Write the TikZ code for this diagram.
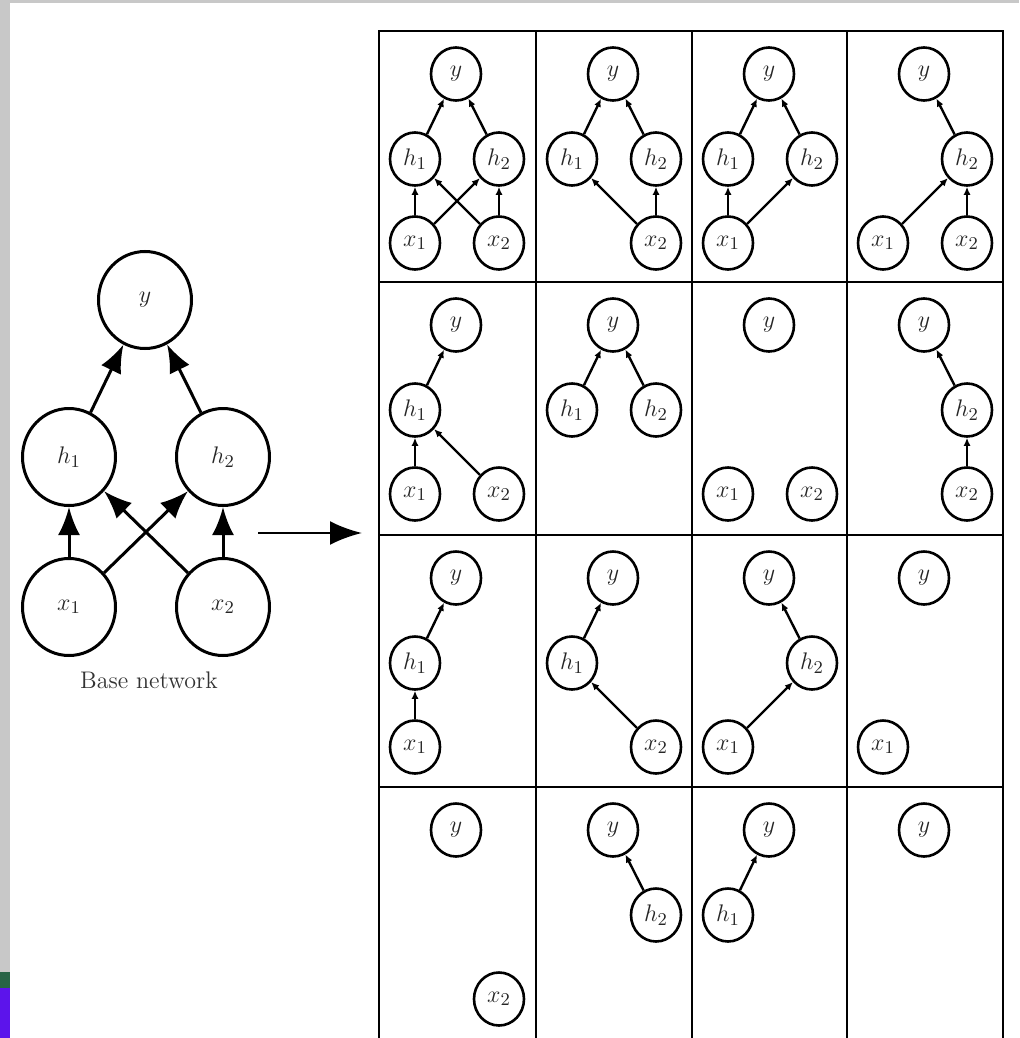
\documentclass[tikz,border=0pt]{standalone}
\usetikzlibrary{arrows.meta,shapes.geometric}
\definecolor{stripgray}{RGB}{200,200,200}
\definecolor{bandgreen}{RGB}{40,100,70}
\definecolor{bandviolet}{RGB}{92,20,235}
\newcommand\mkY{\node[sn] (y) at (77,43) {$y$};}
\newcommand\mkHa{\node[sn] (h1) at (36,128) {$h_1$};}
\newcommand\mkHb{\node[sn] (h2) at (120,128) {$h_2$};}
\newcommand\mkXa{\node[sn] (x1) at (36,212) {$x_1$};}
\newcommand\mkXb{\node[sn] (x2) at (120,212) {$x_2$};}
\begin{document}
\begin{tikzpicture}[x=0.5pt,y=-0.5pt,
  sn/.style={ellipse,draw,line width=1.3pt,minimum width=25pt,minimum height=26.5pt,inner sep=0pt,
    font=\fontsize{13}{15}\selectfont,text=black!85},
  bn/.style={ellipse,draw,line width=1.5pt,minimum width=46.5pt,minimum height=48.5pt,inner sep=0pt,
    font=\fontsize{12.5}{14}\selectfont,text=black!85},
  se/.style={-{Latex[length=4pt,width=3.5pt]},line width=1.2pt},
  be/.style={-{Latex[length=14pt,width=11pt]},line width=1.5pt},
  gl/.style={line width=1.4pt}]
\useasboundingbox (0,0) rectangle (1019,1038);
\clip (0,0) rectangle (1019,1038);
\fill[white] (0,0) rectangle (1019,1038);
% background remnants
\fill[stripgray] (0,0) rectangle (1019,3);
\fill[stripgray] (0,0) rectangle (10,972);
\fill[bandgreen] (0,972) rectangle (10,988);
\fill[bandviolet] (0,988) rectangle (10,1038);

% base network
\node[bn] (by) at (145,300) {$y$};
\node[bn] (bh1) at (69,457) {$h_1$};
\node[bn] (bh2) at (223,457) {$h_2$};
\node[bn] (bx1) at (69,607) {$x_1$};
\node[bn] (bx2) at (223,607) {$x_2$};
\draw[be] (bh1) -- (by);
\draw[be] (bh2) -- (by);
\draw[be] (bx1) -- (bh1);
\draw[be] (bx1) -- (bh2);
\draw[be] (bx2) -- (bh1);
\draw[be] (bx2) -- (bh2);
\node[font=\fontsize{12}{14}\selectfont,text=black!80] (cap) at (149,680) {Base network};

% arrow
\coordinate (as) at (258,533);
\coordinate (ae) at (362,533);
\draw[-{Latex[length=16pt,width=12pt]},line width=1.4pt] (as) -- (ae);

% grid
\draw[gl] (379,31) rectangle (1003,1045);
\foreach \xx in {536,692,847} \draw[gl] (\xx,31) -- (\xx,1045);
\foreach \yy in {282,535,787} \draw[gl] (379,\yy) -- (1003,\yy);

% row 0
\begin{scope}[shift={(379,31)},name prefix=c00-]
 \mkY\mkHa\mkHb\mkXa\mkXb
 \draw[se] (h1) -- (y); \draw[se] (h2) -- (y);
 \draw[se] (x1) -- (h1); \draw[se] (x1) -- (h2);
 \draw[se] (x2) -- (h1); \draw[se] (x2) -- (h2);
\end{scope}
\begin{scope}[shift={(536,31)},name prefix=c01-]
 \mkY\mkHa\mkHb\mkXb
 \draw[se] (h1) -- (y); \draw[se] (h2) -- (y);
 \draw[se] (x2) -- (h1); \draw[se] (x2) -- (h2);
\end{scope}
\begin{scope}[shift={(692,31)},name prefix=c02-]
 \mkY\mkHa\mkHb\mkXa
 \draw[se] (h1) -- (y); \draw[se] (h2) -- (y);
 \draw[se] (x1) -- (h1); \draw[se] (x1) -- (h2);
\end{scope}
\begin{scope}[shift={(847,31)},name prefix=c03-]
 \mkY\mkHb\mkXa\mkXb
 \draw[se] (h2) -- (y);
 \draw[se] (x1) -- (h2); \draw[se] (x2) -- (h2);
\end{scope}

% row 1
\begin{scope}[shift={(379,282)},name prefix=c10-]
 \mkY\mkHa\mkXa\mkXb
 \draw[se] (h1) -- (y);
 \draw[se] (x1) -- (h1); \draw[se] (x2) -- (h1);
\end{scope}
\begin{scope}[shift={(536,282)},name prefix=c11-]
 \mkY\mkHa\mkHb
 \draw[se] (h1) -- (y); \draw[se] (h2) -- (y);
\end{scope}
\begin{scope}[shift={(692,282)},name prefix=c12-]
 \mkY\mkXa\mkXb
\end{scope}
\begin{scope}[shift={(847,282)},name prefix=c13-]
 \mkY\mkHb\mkXb
 \draw[se] (h2) -- (y); \draw[se] (x2) -- (h2);
\end{scope}

% row 2
\begin{scope}[shift={(379,535)},name prefix=c20-]
 \mkY\mkHa\mkXa
 \draw[se] (h1) -- (y); \draw[se] (x1) -- (h1);
\end{scope}
\begin{scope}[shift={(536,535)},name prefix=c21-]
 \mkY\mkHa\mkXb
 \draw[se] (h1) -- (y); \draw[se] (x2) -- (h1);
\end{scope}
\begin{scope}[shift={(692,535)},name prefix=c22-]
 \mkY\mkHb\mkXa
 \draw[se] (h2) -- (y); \draw[se] (x1) -- (h2);
\end{scope}
\begin{scope}[shift={(847,535)},name prefix=c23-]
 \mkY\mkXa
\end{scope}

% row 3
\begin{scope}[shift={(379,787)},name prefix=c30-]
 \mkY\mkXb
\end{scope}
\begin{scope}[shift={(536,787)},name prefix=c31-]
 \mkY\mkHb
 \draw[se] (h2) -- (y);
\end{scope}
\begin{scope}[shift={(692,787)},name prefix=c32-]
 \mkY\mkHa
 \draw[se] (h1) -- (y);
\end{scope}
\begin{scope}[shift={(847,787)},name prefix=c33-]
 \mkY
\end{scope}
\end{tikzpicture}
\end{document}
